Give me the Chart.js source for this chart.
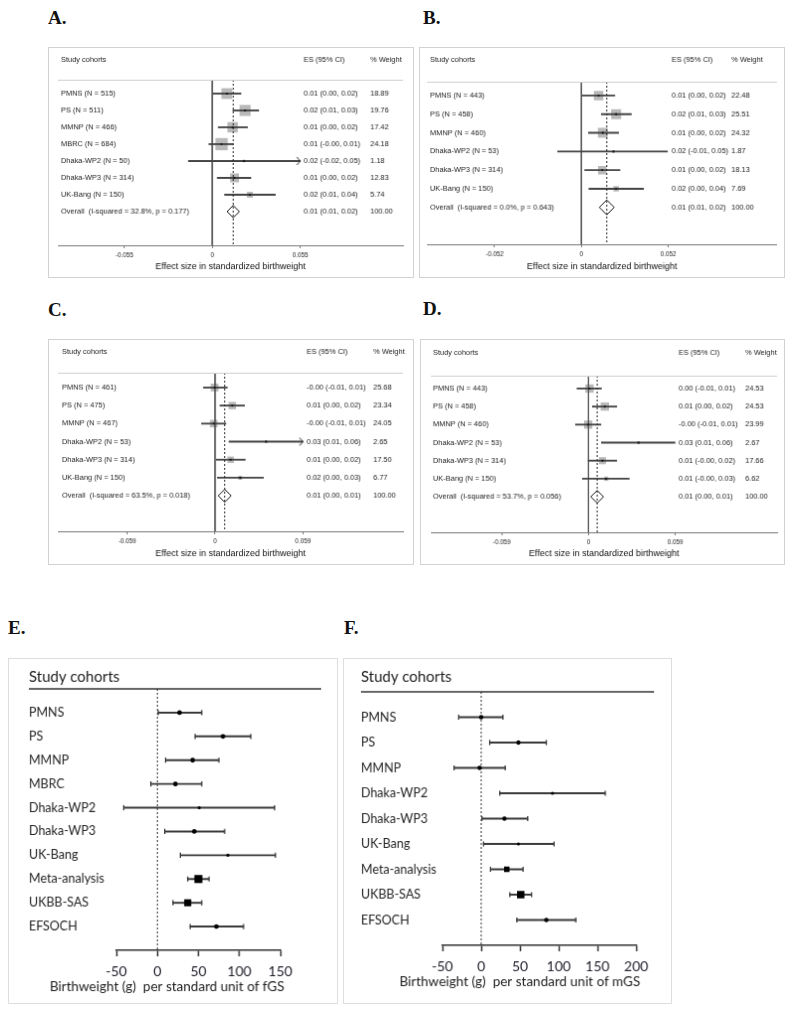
<!DOCTYPE html>
<html>
<head>
<meta charset="utf-8">
<script src="https://cdn.jsdelivr.net/npm/chart.js@4.4.1/dist/chart.umd.min.js"></script>
<style>
  body { margin: 0; background: #fff; width: 800px; height: 1015px; position: relative; overflow: hidden; }
  .lbl { position: absolute; font: bold 19px "Liberation Serif", serif; color: #111; line-height: 1; }
  canvas { position: absolute; }
  .stata { border: 1px solid #d2d2d2; }
  .gp { border: 1px solid #dedede; }
</style>
</head>
<body>
<div class="lbl" style="left:48px;top:8px">A.</div>
<div class="lbl" style="left:423px;top:8px">B.</div>
<div class="lbl" style="left:48px;top:300px">C.</div>
<div class="lbl" style="left:423px;top:299px">D.</div>
<div class="lbl" style="left:8px;top:618px">E.</div>
<div class="lbl" style="left:344px;top:618px">F.</div>

<canvas id="chartA" class="stata" width="366" height="231" style="left:48px;top:47px"></canvas>
<canvas id="chartB" class="stata" width="366" height="231" style="left:419px;top:47px"></canvas>
<canvas id="chartC" class="stata" width="366" height="226" style="left:48px;top:339px"></canvas>
<canvas id="chartD" class="stata" width="365" height="226" style="left:420px;top:339px"></canvas>
<canvas id="chartE" class="gp" width="330" height="346" style="left:8px;top:658px"></canvas>
<canvas id="chartF" class="gp" width="329" height="346" style="left:343px;top:658px"></canvas>

<script>
// ---- A: effect size per standardized birthweight (fGS) ----
const cohortsA = ['PMNS (N = 515)', 'PS (N = 511)', 'MMNP (N = 466)', 'MBRC (N = 684)', 'Dhaka-WP2 (N = 50)', 'Dhaka-WP3 (N = 314)', 'UK-Bang (N = 150)'];
const esA = [0.0091, 0.0205, 0.0127, 0.0058, 0.0199, 0.0139, 0.0235];
const lowA = [0.0000, 0.0129, 0.0037, -0.0021, -0.0149, 0.0031, 0.0077];
const highA = [0.0179, 0.0290, 0.0220, 0.0129, 0.0600, 0.0241, 0.0394];
const weightA = [18.89, 19.76, 17.42, 24.18, 1.18, 12.83, 5.74];
const ciTextA = ['0.01 (0.00, 0.02)', '0.02 (0.01, 0.03)', '0.01 (0.00, 0.02)', '0.01 (-0.00, 0.01)', '0.02 (-0.02, 0.05)', '0.01 (0.00, 0.02)', '0.02 (0.01, 0.04)'];
const overallA = [0.0131, 0.0093, 0.0170];
const overallTextA = ['Overall  (I-squared = 32.8%, p = 0.177)', '0.01 (0.01, 0.02)', '100.00'];
const ticksA = [-0.055, 0, 0.055];

// ---- B ----
const cohortsB = ['PMNS (N = 443)', 'PS (N = 458)', 'MMNP (N = 460)', 'Dhaka-WP2 (N = 53)', 'Dhaka-WP3 (N = 314)', 'UK-Bang (N = 150)'];
const esB = [0.0103, 0.0208, 0.0128, 0.0192, 0.0125, 0.0208];
const lowB = [0.0006, 0.0119, 0.0042, -0.0142, 0.0020, 0.0045];
const highB = [0.0200, 0.0299, 0.0223, 0.0515, 0.0231, 0.0372];
const weightB = [22.48, 25.51, 24.32, 1.87, 18.13, 7.69];
const ciTextB = ['0.01 (0.00, 0.02)', '0.02 (0.01, 0.03)', '0.01 (0.00, 0.02)', '0.02 (-0.01, 0.05)', '0.01 (0.00, 0.02)', '0.02 (0.00, 0.04)'];
const overallB = [0.0152, 0.0109, 0.0198];
const overallTextB = ['Overall  (I-squared = 0.0%, p = 0.643)', '0.01 (0.01, 0.02)', '100.00'];
const ticksB = [-0.052, 0, 0.052];

// ---- C ----
const cohortsC = ['PMNS (N = 461)', 'PS (N = 475)', 'MMNP (N = 467)', 'Dhaka-WP2 (N = 53)', 'Dhaka-WP3 (N = 314)', 'UK-Bang (N = 150)'];
const esC = [-0.0003, 0.0116, -0.0009, 0.0343, 0.0105, 0.0169];
const lowC = [-0.0078, 0.0033, -0.0091, 0.0094, 0.0009, 0.0016];
const highC = [0.0082, 0.0198, 0.0073, 0.0620, 0.0203, 0.0325];
const weightC = [25.68, 23.34, 24.05, 2.65, 17.50, 6.77];
const ciTextC = ['-0.00 (-0.01, 0.01)', '0.01 (0.00, 0.02)', '-0.00 (-0.01, 0.01)', '0.03 (0.01, 0.06)', '0.01 (0.00, 0.02)', '0.02 (0.00, 0.03)'];
const overallC = [0.0065, 0.0022, 0.0109];
const overallTextC = ['Overall  (I-squared = 63.5%, p = 0.018)', '0.01 (0.00, 0.01)', '100.00'];
const ticksC = [-0.059, 0, 0.059];

// ---- D ----
const cohortsD = ['PMNS (N = 443)', 'PS (N = 458)', 'MMNP (N = 460)', 'Dhaka-WP2 (N = 53)', 'Dhaka-WP3 (N = 314)', 'UK-Bang (N = 150)'];
const esD = [0.0007, 0.0111, -0.0002, 0.0340, 0.0095, 0.0120];
const lowD = [-0.0078, 0.0027, -0.0088, 0.0088, -0.0002, -0.0041];
const highD = [0.0088, 0.0192, 0.0084, 0.0588, 0.0192, 0.0277];
const weightD = [24.53, 24.53, 23.99, 2.67, 17.66, 6.62];
const ciTextD = ['0.00 (-0.01, 0.01)', '0.01 (0.00, 0.02)', '-0.00 (-0.01, 0.01)', '0.03 (0.01, 0.06)', '0.01 (-0.00, 0.02)', '0.01 (-0.00, 0.03)'];
const overallD = [0.0059, 0.0020, 0.0106];
const overallTextD = ['Overall  (I-squared = 53.7%, p = 0.056)', '0.01 (0.00, 0.01)', '100.00'];
const ticksD = [-0.059, 0, 0.059];

// ---- E: birthweight (g) per unit fGS ----
const cohortsE = ['PMNS', 'PS', 'MMNP', 'MBRC', 'Dhaka-WP2', 'Dhaka-WP3', 'UK-Bang', 'Meta-analysis', 'UKBB-SAS', 'EFSOCH'];
const estE = [27, 80, 43, 22, 51, 45, 86, 50, 37, 72];
const lowE = [1, 46, 10, -8, -41, 9, 28, 37, 19, 40];
const highE = [54, 114, 75, 54, 143, 82, 144, 63, 54, 105];
const ticksE = [-50, 0, 50, 100, 150];

// ---- F: birthweight (g) per unit mGS ----
const cohortsF = ['PMNS', 'PS', 'MMNP', 'Dhaka-WP2', 'Dhaka-WP3', 'UK-Bang', 'Meta-analysis', 'UKBB-SAS', 'EFSOCH'];
const estF = [0, 48, -2, 92, 30, 48, 33, 51, 84];
const lowF = [-29, 11, -35, 24, 1, 3, 12, 37, 46];
const highF = [28, 84, 31, 160, 60, 94, 54, 65, 122];
const ticksF = [-50, 0, 50, 100, 150, 200];

const stataTitle = 'Effect size in standardized birthweight';

// little ">" used where a CI runs off the axis
const arrowImg = (() => {
  const c = document.createElement('canvas');
  c.width = 10; c.height = 10;
  const g = c.getContext('2d');
  g.strokeStyle = '#222'; g.lineWidth = 1;
  g.beginPath(); g.moveTo(1.5, 1); g.lineTo(5, 5); g.lineTo(1.5, 9); g.stroke();
  return c;
})();

const stataText = {
  id: 'stataText',
  afterDraw(chart, args, o) {
    const { ctx, chartArea: a, scales: { y } } = chart;
    ctx.save();
    ctx.strokeStyle = '#cfcfcf';
    ctx.lineWidth = 1;
    ctx.beginPath(); ctx.moveTo(a.left, a.top + 0.5); ctx.lineTo(a.right, a.top + 0.5); ctx.stroke();
    ctx.font = '7.45px "Liberation Sans"';
    ctx.fillStyle = '#222';
    ctx.textBaseline = 'middle';
    const [c0, c1, c2] = o.cols;
    ctx.fillText('Study cohorts', c0, o.headY);
    ctx.fillText('ES (95% CI)', c1, o.headY);
    ctx.fillText('% Weight', c2, o.headY);
    o.rows.forEach((r, i) => {
      const py = y.getPixelForValue(i + 1);
      ctx.fillText(r[0], c0, py);
      ctx.fillText(r[1], c1, py);
      ctx.fillText(r[2], c2, py);
    });
    ctx.restore();
  }
};

function stataForest(id, d, lay) {
  const el = document.getElementById(id);
  const n = d.cohorts.length;
  const rows = d.cohorts.map((_, i) => i + 1);
  const tickMax = d.ticks[d.ticks.length - 1];
  const [oEs, oLow, oHigh] = d.overall;
  const textRows = d.cohorts.map((c, i) => [c, d.ciText[i], d.weight[i].toFixed(2)]);
  textRows.push(d.overallText);

  new Chart(el, {
    type: 'scatter',
    data: {
      datasets: [
        { data: rows.map((r, i) => ({ x: d.es[i], y: r })), pointStyle: 'rect',
          pointRadius: d.weight.map(w => lay.sq * Math.sqrt(w) / Math.SQRT2),
          backgroundColor: '#b9b9b9', borderWidth: 0, order: 6 },
        { type: 'line', data: [{ x: 0, y: lay.ymin }, { x: 0, y: lay.ymax }],
          borderColor: '#555', borderWidth: 1, pointRadius: 0, order: 5 },
        { type: 'bar', indexAxis: 'y',
          data: rows.map((r, i) => ({ x: [d.low[i], Math.min(d.high[i], tickMax)], y: r })),
          backgroundColor: '#444', barThickness: 1.2, order: 4 },
        { data: rows.map((r, i) => ({ x: d.es[i], y: r })), pointStyle: 'rect', pointRadius: 1.3,
          backgroundColor: '#111', borderWidth: 0, order: 3 },
        { data: rows.flatMap((r, i) => d.high[i] > tickMax ? [{ x: tickMax, y: r }] : []),
          pointStyle: arrowImg, order: 2 },
        { type: 'line', data: [{ x: oEs, y: lay.ymin }, { x: oEs, y: lay.ymax }],
          borderColor: '#222', borderWidth: 1, borderDash: [2, 2], pointRadius: 0, order: 1 },
        { data: [{ x: oEs, y: n + 1 }], pointStyle: 'rectRot',
          pointRadius: c => {
            const s = c.chart.scales.x;
            return (s.getPixelForValue(oHigh) - s.getPixelForValue(oLow)) / 2;
          },
          backgroundColor: 'rgba(0,0,0,0)', borderColor: '#111', borderWidth: 1, order: 0 }
      ]
    },
    options: {
      devicePixelRatio: 1, animation: false, responsive: false, events: [],
      layout: { padding: { left: lay.left, right: lay.right, top: lay.top, bottom: 0 } },
      plugins: {
        legend: { display: false }, tooltip: { enabled: false },
        stataText: { cols: lay.cols, headY: lay.headY, rows: textRows }
      },
      scales: {
        x: {
          type: 'linear', min: lay.xmin, max: lay.xmax,
          afterBuildTicks: s => { s.ticks = d.ticks.map(v => ({ value: v })); },
          afterFit: s => { s.height = el.height - lay.bottom; },
          border: { color: '#7a7a7a', width: 1 },
          grid: { drawOnChartArea: false, tickLength: 3, color: '#7a7a7a' },
          ticks: { callback: v => String(v), font: { family: 'Liberation Sans', size: 6.3 },
                   color: '#222', padding: 3.5, maxRotation: 0, autoSkip: false },
          title: { display: true, text: stataTitle, color: '#111',
                   font: { family: 'Liberation Sans', size: 9 }, padding: { top: 0, bottom: 5.5 } }
        },
        y: { type: 'linear', min: lay.ymin, max: lay.ymax, reverse: true, offset: false, display: false }
      }
    },
    plugins: [stataText]
  });
}

// header, rule and the axis caption (caption is wider than the axis, so it is drawn here)
const gpHeader = {
  id: 'gpHeader',
  afterDraw(chart, args, o) {
    const { ctx, chartArea: a } = chart;
    ctx.save();
    ctx.font = '15px Lato';
    ctx.fillStyle = '#222';
    ctx.textBaseline = 'middle';
    ctx.fillText('Study cohorts', o.x, o.y);
    ctx.strokeStyle = '#333';
    ctx.lineWidth = 1.5;
    ctx.beginPath(); ctx.moveTo(o.x, a.top); ctx.lineTo(o.x2, a.top); ctx.stroke();
    ctx.font = '13.5px Lato';
    ctx.textAlign = 'right';
    ctx.fillText(o.title, a.right + o.titleDx, a.bottom + o.titleDy);
    ctx.restore();
  }
};

function gpForest(id, d, lay) {
  const el = document.getElementById(id);
  const rows = d.cohorts.map((_, i) => i + 1);
  new Chart(el, {
    type: 'scatter',
    data: {
      datasets: [
        { type: 'line', data: [{ x: 0, y: 0 }, { x: 0, y: lay.ymax }], borderColor: '#333',
          borderWidth: 1, borderDash: [2, 2], pointRadius: 0, order: 4 },
        { type: 'bar', indexAxis: 'y',
          data: rows.map((r, i) => ({ x: [d.low[i], d.high[i]], y: r })),
          backgroundColor: '#3a3a3a', barThickness: 1.3, order: 3 },
        { data: rows.flatMap((r, i) => [{ x: d.low[i], y: r }, { x: d.high[i], y: r }]),
          pointStyle: 'line', rotation: 90, pointRadius: 2.6, borderColor: '#3a3a3a',
          borderWidth: 1.3, order: 2 },
        { data: rows.map((r, i) => ({ x: d.est[i], y: r })), pointStyle: lay.marker,
          pointRadius: lay.size, backgroundColor: '#000', borderWidth: 0, order: 1 }
      ]
    },
    options: {
      devicePixelRatio: 1, animation: false, responsive: false, events: [],
      layout: { padding: { left: lay.left, right: lay.right, top: lay.top, bottom: 0 } },
      plugins: {
        legend: { display: false }, tooltip: { enabled: false },
        gpHeader: { x: lay.left, y: lay.headY, x2: lay.lineEnd, title: d.title, titleDx: 4, titleDy: 37 }
      },
      scales: {
        x: {
          type: 'linear', min: d.ticks[0], max: d.ticks[d.ticks.length - 1],
          afterBuildTicks: s => { s.ticks = d.ticks.map(v => ({ value: v })); },
          afterFit: s => { s.height = el.height - lay.bottom; },
          border: { color: '#333', width: 1.5 },
          grid: { drawOnChartArea: false, tickLength: 6, tickWidth: 1.5, tickColor: '#333' },
          ticks: { font: { family: 'Lato', size: 14 }, color: '#1e1e2a', padding: 7,
                   maxRotation: 0, autoSkip: false }
        },
        y: {
          type: 'linear', min: 0, max: lay.ymax, reverse: true, offset: false,
          afterBuildTicks: s => { s.ticks = rows.map(v => ({ value: v })); },
          afterFit: s => { s.width = lay.yWidth; },
          border: { display: false }, grid: { display: false },
          ticks: { callback: v => d.cohorts[v - 1] ?? '', crossAlign: 'far', padding: 0,
                   autoSkip: false, font: { family: 'Lato', size: 12.5 }, color: '#262626' }
        }
      }
    },
    plugins: [gpHeader]
  });
}

stataForest('chartA',
  { cohorts: cohortsA, es: esA, low: lowA, high: highA, weight: weightA, ciText: ciTextA,
    overall: overallA, overallText: overallTextA, ticks: ticksA },
  { left: 9, right: 10, top: 32, bottom: 199, xmin: -0.0965, xmax: 0.1193, ymin: 0.18, ymax: 10,
    cols: [12, 256, 323], headY: 12, sq: 2.5 });

stataForest('chartB',
  { cohorts: cohortsB, es: esB, low: lowB, high: highB, weight: weightB, ciText: ciTextB,
    overall: overallB, overallText: overallTextB, ticks: ticksB },
  { left: 6, right: 7, top: 34, bottom: 198, xmin: -0.0924, xmax: 0.1171, ymin: 0.26, ymax: 8.98,
    cols: [10, 253, 313], headY: 12, sq: 2.0 });

stataForest('chartC',
  { cohorts: cohortsC, es: esC, low: lowC, high: highC, weight: weightC, ciText: ciTextC,
    overall: overallC, overallText: overallTextC, ticks: ticksC },
  { left: 9, right: 10, top: 33, bottom: 193, xmin: -0.1055, xmax: 0.1263, ymin: 0.18, ymax: 8.97,
    cols: [13, 259, 326], headY: 12, sq: 1.55 });

stataForest('chartD',
  { cohorts: cohortsD, es: esD, low: lowD, high: highD, weight: weightD, ciText: ciTextD,
    overall: overallD, overallText: overallTextD, ticks: ticksD },
  { left: 10, right: 7, top: 36, bottom: 194, xmin: -0.1070, xmax: 0.1281, ymin: 0.29, ymax: 8.97,
    cols: [12, 259, 326], headY: 13, sq: 1.7 });

gpForest('chartE',
  { cohorts: cohortsE, est: estE, low: lowE, high: highE, ticks: ticksE,
    title: 'Birthweight (g)  per standard unit of fGS' },
  { left: 20, right: 57, top: 30, bottom: 293, yWidth: 88, ymax: 11, headY: 18, lineEnd: 314,
    marker: ['circle', 'circle', 'circle', 'circle', 'circle', 'circle', 'circle', 'rect', 'rect', 'circle'],
    size: [2.4, 2.4, 2.4, 2.4, 1.6, 2.4, 1.6, 5.7, 5.0, 2.4] });

gpForest('chartF',
  { cohorts: cohortsF, est: estF, low: lowF, high: highF, ticks: ticksF,
    title: 'Birthweight (g)  per standard unit of mGS' },
  { left: 17, right: 35, top: 33, bottom: 288, yWidth: 82, ymax: 10, headY: 18, lineEnd: 312,
    marker: ['circle', 'circle', 'circle', 'circle', 'circle', 'circle', 'rect', 'rect', 'circle'],
    size: [2.2, 2.2, 2.2, 1.6, 2.2, 1.6, 3.9, 5.3, 2.2] });
</script>
</body>
</html>
